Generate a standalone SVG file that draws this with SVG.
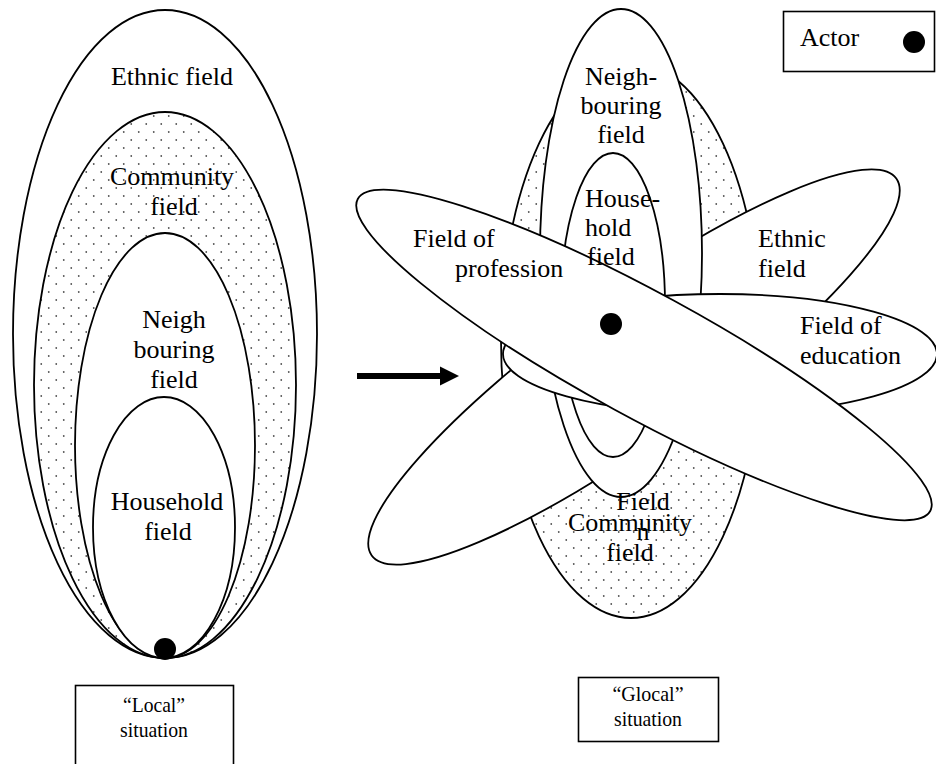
<svg xmlns="http://www.w3.org/2000/svg" width="936" height="764" viewBox="0 0 936 764">
<defs>
<pattern id="dots" width="15" height="16" patternUnits="userSpaceOnUse">
<rect width="15" height="16" fill="#fff"/>
<circle cx="3.75" cy="4" r="0.9" fill="#555"/>
<circle cx="11.25" cy="12" r="0.9" fill="#555"/>
</pattern>
</defs>
<style>
.e{fill:#fff;stroke:#000;stroke-width:1.8}
.d{fill:url(#dots);stroke:#000;stroke-width:1.8}
.box{fill:#fff;stroke:#000;stroke-width:1.6}
.t{font-family:"Liberation Serif","Times New Roman",serif;font-size:26px;fill:#000}
.s{font-family:"Liberation Serif","Times New Roman",serif;font-size:22px;fill:#000}
.m{text-anchor:middle}
</style>
<rect width="936" height="764" fill="#fff"/>

<!-- Left: local situation -->
<g id="local-ethnic"><ellipse class="e" cx="165" cy="334" rx="152" ry="324"/></g>
<g id="local-community"><ellipse class="d" cx="165" cy="385" rx="131" ry="273"/></g>
<g id="local-neighbouring"><ellipse class="e" cx="165" cy="445.5" rx="90" ry="212.5"/></g>
<g id="local-household"><ellipse class="e" cx="164" cy="527.5" rx="71" ry="130.5"/></g>
<g id="local-actor"><circle cx="165" cy="649" r="11" fill="#000"/></g>
<g id="local-labels">
<text class="t m" x="172" y="85">Ethnic field</text>
<text class="t m" x="172" y="185">Community</text>
<text class="t m" x="174" y="215">field</text>
<text class="t m" x="174" y="328">Neigh</text>
<text class="t m" x="174" y="358">bouring</text>
<text class="t m" x="174" y="388">field</text>
<text class="t m" x="167" y="510">Household</text>
<text class="t m" x="168" y="540">field</text>
</g>
<g id="local-box">
<rect class="box" x="75.5" y="685.5" width="158" height="90"/>
<text class="s m" x="154" y="712" textLength="62" lengthAdjust="spacingAndGlyphs">“Local”</text>
<text class="s m" x="154" y="737" textLength="68" lengthAdjust="spacingAndGlyphs">situation</text>
</g>

<!-- Connector -->
<g id="connectors">
<line x1="357" y1="376" x2="442" y2="376" stroke="#000" stroke-width="6"/>
<polygon points="440,366.5 459,376 440,385.5" fill="#000"/>
</g>

<!-- Right: glocal situation -->
<g id="glocal-community"><ellipse class="d" cx="631" cy="340" rx="130" ry="278"/></g>
<g id="glocal-ethnic"><ellipse class="e" cx="634" cy="367" rx="323" ry="73" transform="rotate(-35.7 634 367)"/></g>
<g id="glocal-neighbouring"><ellipse class="e" cx="621" cy="253" rx="81" ry="244"/></g>
<g id="glocal-household"><ellipse class="e" cx="613" cy="305" rx="52" ry="152"/></g>
<g id="glocal-education"><ellipse class="e" cx="720" cy="354" rx="217" ry="60"/></g>
<g id="glocal-profession"><ellipse class="e" cx="644" cy="355" rx="326" ry="62" transform="rotate(28.6 644 355)"/></g>
<g id="glocal-actor"><circle cx="611" cy="324" r="11" fill="#000"/></g>
<g id="glocal-labels">
<text class="t m" x="621" y="85">Neigh-</text>
<text class="t m" x="621" y="114">bouring</text>
<text class="t m" x="621" y="143">field</text>
<text class="t" x="585" y="207">House-</text>
<text class="t" x="585" y="236">hold</text>
<text class="t" x="587" y="265">field</text>
<text class="t" x="413" y="247">Field of</text>
<text class="t" x="455" y="277">profession</text>
<text class="t" x="758" y="247">Ethnic</text>
<text class="t" x="758" y="277">field</text>
<text class="t" x="800" y="334">Field of</text>
<text class="t" x="800" y="364">education</text>
<text class="t m" x="643" y="510">Field</text>
<text class="t m" x="643" y="540">n</text>
<text class="t m" x="630" y="531">Community</text>
<text class="t m" x="630" y="561">field</text>
</g>
<g id="glocal-box">
<rect class="box" x="578.5" y="677.5" width="140" height="64"/>
<text class="s m" x="648" y="701" textLength="71" lengthAdjust="spacingAndGlyphs">“Glocal”</text>
<text class="s m" x="648" y="726" textLength="68" lengthAdjust="spacingAndGlyphs">situation</text>
</g>

<!-- Legend -->
<g id="legend">
<rect class="box" x="783.5" y="11.5" width="151" height="60"/>
<text class="t" x="800" y="46">Actor</text>
<circle cx="914" cy="42" r="11" fill="#000"/>
</g>
</svg>
